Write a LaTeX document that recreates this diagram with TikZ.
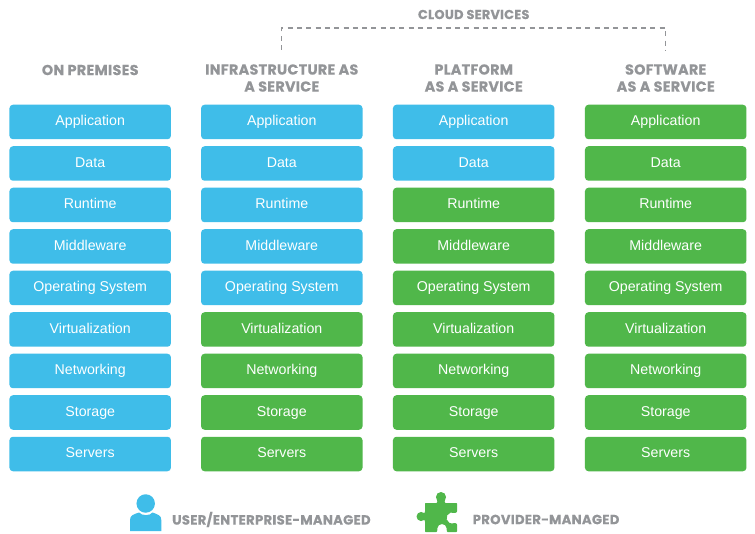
\documentclass[tikz,border=0pt]{standalone}
\usepackage{fontspec}
\setmainfont{Liberation Sans}
\newfontfamily\headfont[LetterSpace=1.8,BoldFeatures={FakeBold=0.35}]{Poppins}
\definecolor{ublue}{HTML}{3FBDE9}
\definecolor{pgreen}{HTML}{50B74A}
\definecolor{hgray}{HTML}{939598}
\tikzset{
  cell/.style={rounded corners=3.5pt,minimum width=161.5pt,minimum height=34.5pt,inner sep=0pt,text=white,text height=10.2pt,text depth=3pt,font=\fontsize{14.2}{16}\selectfont},
  ucell/.style={cell,fill=ublue},
  pcell/.style={cell,fill=pgreen},
  head/.style={text=hgray,align=center,inner sep=0pt,font=\headfont\bfseries\fontsize{14.4}{17}\selectfont},
  legend/.style={text=hgray,anchor=west,inner sep=0pt,font=\headfont\bfseries\fontsize{13.3}{15}\selectfont},
  bracket/.style={draw=hgray,line width=1.1pt,dash pattern=on 5pt off 4.3pt}
}
\begin{document}
\begin{tikzpicture}[x=1pt,y=1pt]
\useasboundingbox (0,0) rectangle (755,-534);
\fill[white] (0,0) rectangle (755,-534);
\foreach \lab [count=\r from 0] in {Application,Data,Runtime,Middleware,Operating System,Virtualization,Networking,Storage,Servers}{
  \pgfmathsetmacro{\yy}{-(122+41.5*\r)}
  \node[ucell] (a\r) at (90.2,\yy) {\lab};
  \pgfmathtruncatemacro{\ib}{\r<5?1:0}
  \ifnum\ib=1 \node[ucell] (b\r) at (281.8,\yy) {\lab};\else \node[pcell] (b\r) at (281.8,\yy) {\lab};\fi
  \pgfmathtruncatemacro{\ic}{\r<2?1:0}
  \ifnum\ic=1 \node[ucell] (c\r) at (473.7,\yy) {\lab};\else \node[pcell] (c\r) at (473.7,\yy) {\lab};\fi
  \node[pcell] (d\r) at (665.7,\yy) {\lab};
}
\node[head] (h1) at (90.2,-70) {ON PREMISES};
\node[head] (h2) at (281.8,-78) {INFRASTRUCTURE AS\\A SERVICE};
\node[head] (h3) at (473.7,-78) {PLATFORM\\AS A SERVICE};
\node[head] (h4) at (665.7,-78) {SOFTWARE\\AS A SERVICE};
\node[legend,font=\headfont\bfseries\fontsize{12.9}{14}\selectfont,anchor=center] (cs) at (473.7,-14.5) {CLOUD SERVICES};
\coordinate (bl) at (281.8,-50);
\coordinate (br) at (665.7,-50);
\draw[bracket] (bl) -- (281.8,-28) -- (665.7,-28) -- (br);
% user icon
\node[circle,fill=ublue,minimum size=18.5pt,inner sep=0pt] (uhead) at (145.7,-503.5) {};
\fill[ublue] (130,-531) -- (130,-520) .. controls (130,-515.5) and (133,-514.5) .. (139,-512.5)
  .. controls (142,-516) and (150,-516) .. (152.5,-512.5)
  .. controls (158,-514.5) and (161.3,-515.5) .. (161.3,-520) -- (161.3,-531) -- cycle;
\node[legend] (lu) at (172,-519.5) {USER/ENTERPRISE-MANAGED};
% puzzle icon
\fill[pgreen,rounded corners=0.6pt] (425,-503) -- (437,-503) -- (437.46,-500.54)
  arc[start angle=225,end angle=-45,radius=5]
  -- (445,-503) -- (457,-503) -- (457,-512) -- (454.75,-513.24)
  arc[start angle=60,end angle=300,radius=5.5]
  -- (457,-524) -- (457,-532) -- (447,-532) -- (446.5,-528.5)
  arc[start angle=0,end angle=180,radius=4.5]
  -- (437,-532) -- (425,-532) -- (425,-521) -- (424.2,-519.7)
  arc[start angle=315,end angle=45,radius=4.5]
  -- (425,-512) -- cycle;
\node[legend] (lp) at (472.5,-519.5) {PROVIDER-MANAGED};
\end{tikzpicture}
\end{document}
